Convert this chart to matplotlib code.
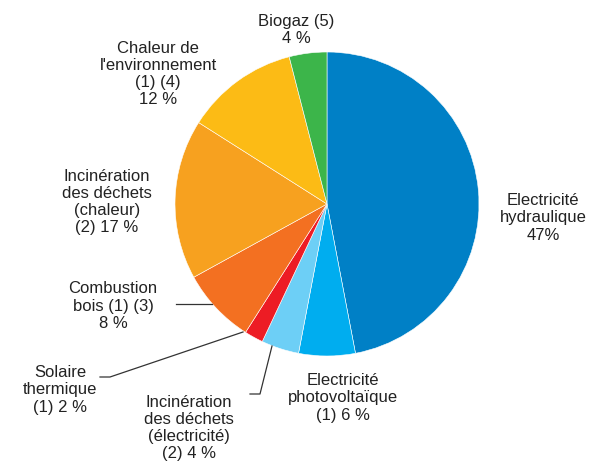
import matplotlib.pyplot as plt

plt.rcParams['font.family'] = ['Liberation Sans', 'DejaVu Sans']

labels = ["Electricité\nhydraulique\n47%",
          "Electricité\nphotovoltaïque\n(1) 6 %",
          "Incinération\ndes déchets\n(électricité)\n(2) 4 %",
          "Solaire\nthermique\n(1) 2 %",
          "Combustion\nbois (1) (3)\n8 %",
          "Incinération\ndes déchets\n(chaleur)\n(2) 17 %",
          "Chaleur de\nl'environnement\n(1) (4)\n12 %",
          "Biogaz (5)\n4 %"]
shares = [47, 6, 4, 2, 8, 17, 12, 4]
colors = ['#0080c6', '#00adef', '#6dcff6', '#ed1c24',
          '#f37021', '#f7a11f', '#fcbb15', '#3cb54a']
# label centres in pixel coords (y from top)
label_pos = [(543, 218), (343, 398), (189, 428), (60, 390),
             (113, 306), (107, 202), (158, 74), (296, 30)]

W, H = 604, 464
fig = plt.figure(figsize=(W / 100, H / 100), dpi=100)
ax = fig.add_axes([0, 0, 1, 1])
ax.set_xlim(0, W)
ax.set_ylim(0, H)
ax.set_aspect('equal')
ax.axis('off')

ax.pie(shares, colors=colors, startangle=90, counterclock=False,
       center=(327, H - 205), radius=152,
       wedgeprops=dict(edgecolor='white', linewidth=0.4))
ax.set_xlim(0, W)
ax.set_ylim(0, H)

for txt, (x, y) in zip(labels, label_pos):
    ax.text(x, H - y, txt, ha='center', va='center', fontsize=12,
            color='#222222', linespacing=1.18)

# leader lines
lc = '#333333'
ax.plot([176, 212], [H - 305, H - 305], color=lc, lw=0.9)
ax.plot([100, 110, 243], [H - 378, H - 378, H - 333], color=lc, lw=0.9)
ax.plot([250, 260, 272], [H - 395, H - 395, H - 347], color=lc, lw=0.9)

fig.savefig('out.png', dpi=100)
